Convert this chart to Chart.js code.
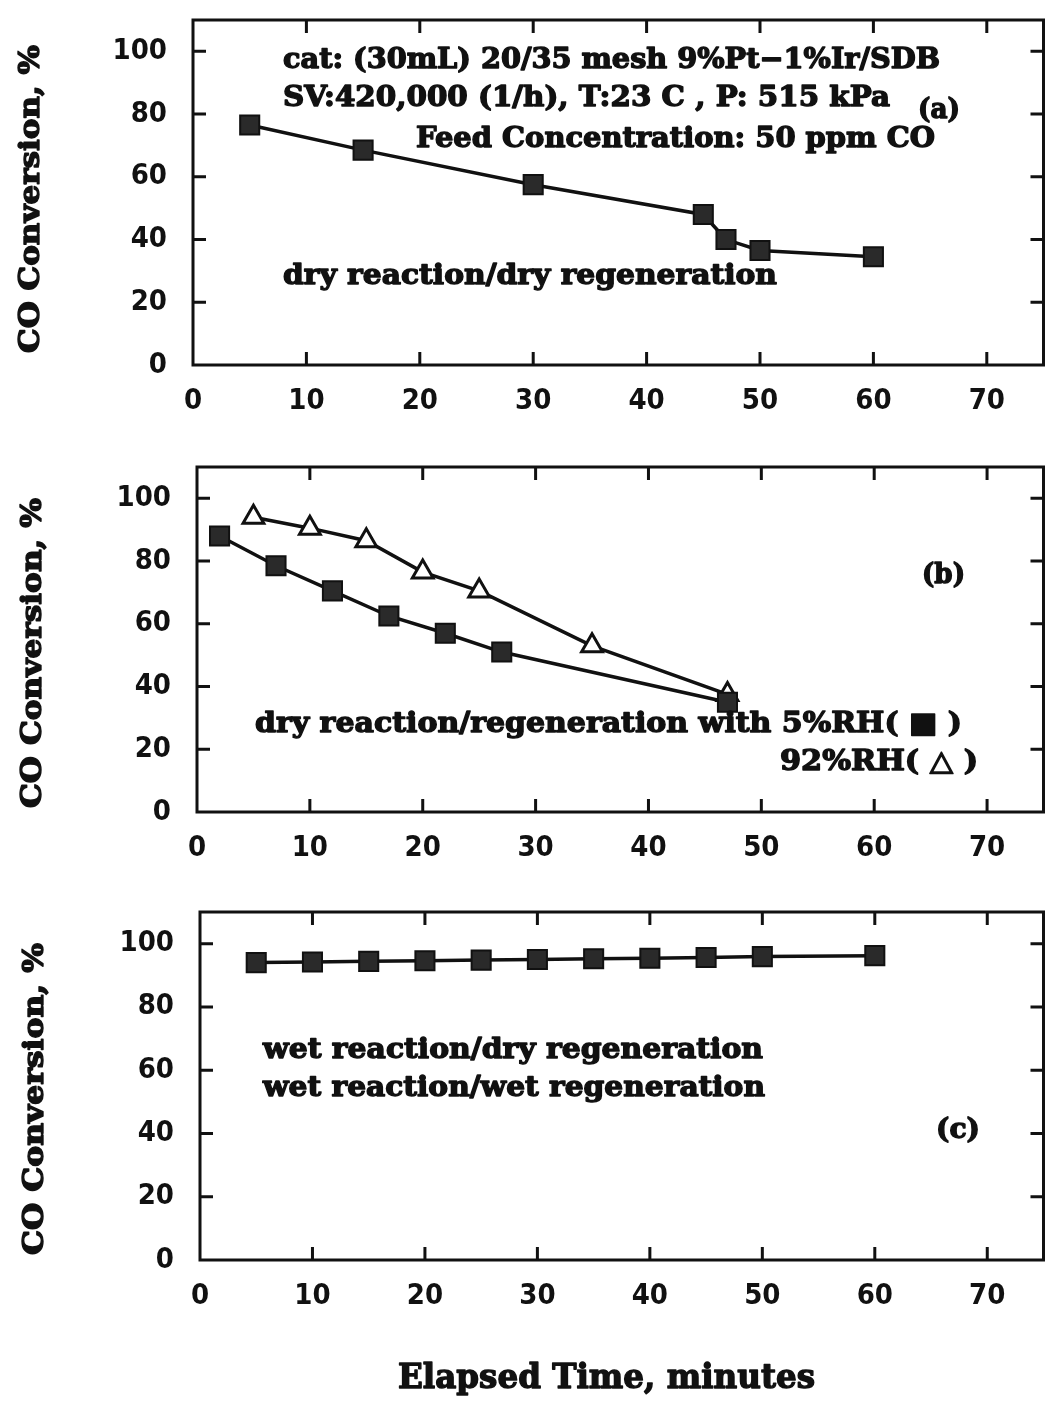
<!DOCTYPE html>
<html>
<head>
<meta charset="utf-8">
<script src="https://cdn.jsdelivr.net/npm/chart.js@4.4.0/dist/chart.umd.min.js"></script>
<style>
  html, body { margin: 0; padding: 0; background: #fff; }
  body { width: 1059px; height: 1402px; position: relative; overflow: hidden; }
  canvas { position: absolute; left: 0; }
</style>
</head>
<body>
<canvas id="cA" width="1059" height="440" style="top:0px"></canvas>
<canvas id="cB" width="1059" height="440" style="top:440px"></canvas>
<canvas id="cC" width="1059" height="522" style="top:880px"></canvas>
<script>
// ---------- data ----------
const xTickValues = [0, 10, 20, 30, 40, 50, 60, 70];
const yTickValues = [0, 20, 40, 60, 80, 100];

// Panel (a): dry reaction / dry regeneration
const aTime = [5, 15, 30, 45, 47, 50, 60];
const aConv = [76.5, 68.5, 57.5, 48, 40, 36.5, 34.5];

// Panel (b): regeneration with 5%RH (squares) and 92%RH (triangles)
const b5Time = [2, 7, 12, 17, 22, 27, 47];
const b5Conv = [88, 78.5, 70.5, 62.5, 57, 51, 35];
const b92Time = [5, 10, 15, 20, 25, 35, 47];
const b92Conv = [94, 90.5, 86.5, 76.5, 70.5, 53, 37.5];

// Panel (c): wet reaction
const cTime = [5, 10, 15, 20, 25, 30, 35, 40, 45, 50, 60];
const cConv = [94, 94.2, 94.4, 94.6, 94.8, 95, 95.2, 95.4, 95.6, 95.9, 96.2];

const yTitle = "CO Conversion, %";
const xTitle = "Elapsed Time, minutes";

// ---------- helpers ----------
const SERIF = '"DejaVu Serif", "Liberation Serif", serif';
const SANS = '"DejaVu Sans Condensed", "Liberation Sans Narrow", "DejaVu Sans", sans-serif';

function toPts(xs, ys) { return xs.map((x, i) => ({ x: x, y: ys[i] })); }

function fitText(ctx, text, x, y, width, size, opts) {
  opts = opts || {};
  ctx.save();
  ctx.font = `bold ${size}px ${opts.font || SERIF}`;
  ctx.fillStyle = '#111';
  ctx.strokeStyle = '#111';
  ctx.lineWidth = opts.stroke == null ? 1.4 : opts.stroke;
  ctx.lineJoin = 'round';
  ctx.textBaseline = 'alphabetic';
  ctx.textAlign = 'left';
  const w = ctx.measureText(text).width;
  ctx.translate(x, y);
  if (opts.rotate) ctx.rotate(opts.rotate);
  ctx.scale(width / w, 1);
  ctx.fillText(text, 0, 0);
  if (ctx.lineWidth > 0) ctx.strokeText(text, 0, 0);
  ctx.restore();
}

const framePlugin = {
  id: 'frame',
  afterDatasetsDraw(chart) {
    const { ctx, chartArea: a, scales } = chart;
    ctx.save();
    ctx.strokeStyle = '#111';
    ctx.lineWidth = 3;
    ctx.strokeRect(a.left, a.top, a.right - a.left, a.bottom - a.top);
    const L = 13;
    scales.x.ticks.forEach(t => {
      if (t.value === 0) return;
      const px = scales.x.getPixelForValue(t.value);
      ctx.beginPath();
      ctx.moveTo(px, a.bottom); ctx.lineTo(px, a.bottom - L);
      ctx.moveTo(px, a.top); ctx.lineTo(px, a.top + L);
      ctx.stroke();
    });
    scales.y.ticks.forEach(t => {
      if (t.value === 0) return;
      const py = scales.y.getPixelForValue(t.value);
      ctx.beginPath();
      ctx.moveTo(a.left, py); ctx.lineTo(a.left + L, py);
      ctx.moveTo(a.right, py); ctx.lineTo(a.right - L, py);
      ctx.stroke();
    });
    ctx.restore();
  },
  afterDraw(chart, args, opts) {
    const ctx = chart.ctx;
    (opts.texts || []).forEach(t => fitText(ctx, t.text, t.x, t.y, t.w, t.size, t));
  }
};

function squareSet(data) {
  return {
    data: data,
    showLine: true,
    borderColor: '#111',
    borderWidth: 3.5,
    pointStyle: 'rect',
    pointRadius: 13.5,
    pointHoverRadius: 13.5,
    pointBackgroundColor: '#2a2a2a',
    pointBorderColor: '#111',
    pointBorderWidth: 2,
    tension: 0
  };
}
function triangleSet(data) {
  return {
    data: data,
    showLine: true,
    borderColor: '#111',
    borderWidth: 3.5,
    pointStyle: 'triangle',
    pointRadius: 12,
    pointHoverRadius: 12,
    pointBackgroundColor: '#fff',
    pointBorderColor: '#111',
    pointBorderWidth: 3,
    tension: 0
  };
}

function makePanel(id, area, datasets, texts) {
  const canvas = document.getElementById(id);
  const W = canvas.width, H = canvas.height;
  return new Chart(canvas, {
    type: 'scatter',
    data: { datasets: datasets },
    options: {
      responsive: false,
      animation: false,
      devicePixelRatio: 1,
      layout: { padding: { top: area.top, right: W - area.right, left: 0, bottom: 0 } },
      plugins: {
        legend: { display: false },
        tooltip: { enabled: false },
        frame: { texts: texts }
      },
      scales: {
        x: {
          type: 'linear', min: 0, max: 75,
          afterFit(s) { s.height = H - area.bottom; s.paddingLeft = 0; s.paddingRight = 0; },
          afterBuildTicks(s) { s.ticks = xTickValues.map(v => ({ value: v })); },
          grid: { display: false },
          border: { display: false },
          ticks: {
            padding: 11,
            color: '#111',
            font: { family: SANS, size: 29, weight: 'bold' },
            maxRotation: 0,
            autoSkip: false
          }
        },
        y: {
          type: 'linear', min: 0, max: 110,
          afterFit(s) { s.width = area.left; s.paddingTop = 0; s.paddingBottom = 0; },
          afterBuildTicks(s) { s.ticks = yTickValues.map(v => ({ value: v })); },
          grid: { display: false },
          border: { display: false },
          ticks: {
            padding: 18,
            color: '#111',
            font: { family: SANS, size: 29, weight: 'bold' }
          }
        }
      }
    },
    plugins: [framePlugin]
  });
}

const ROT = -Math.PI / 2;

makePanel('cA', { left: 193, right: 1048, top: 20, bottom: 365 },
  [squareSet(toPts(aTime, aConv))],
  [
    { text: "cat: (30mL) 20/35 mesh 9%Pt\u22121%Ir/SDB", x: 283, y: 68, w: 657, size: 28 },
    { text: "SV:420,000 (1/h), T:23 C , P: 515 kPa", x: 283, y: 106, w: 607, size: 28 },
    { text: "Feed Concentration: 50 ppm CO", x: 416, y: 147, w: 519, size: 28 },
    { text: "(a)", x: 918, y: 118, w: 42, size: 28 },
    { text: "dry reaction/dry regeneration", x: 283, y: 284, w: 494, size: 28 },
    { text: yTitle, x: 39, y: 353, w: 308, size: 28, rotate: ROT }
  ]);

makePanel('cB', { left: 197, right: 1055, top: 27, bottom: 372 },
  [squareSet(toPts(b5Time, b5Conv)), triangleSet(toPts(b92Time, b92Conv))],
  [
    { text: "dry reaction/regeneration with 5%RH( \u25A0 )", x: 255, y: 292, w: 707, size: 28 },
    { text: "92%RH( \u25B3 )", x: 780, y: 330, w: 198, size: 28 },
    { text: "(b)", x: 922, y: 143, w: 43, size: 28 },
    { text: yTitle, x: 41, y: 368, w: 310, size: 28, rotate: ROT }
  ]);

makePanel('cC', { left: 200, right: 1055, top: 32, bottom: 380 },
  [squareSet(toPts(cTime, cConv))],
  [
    { text: "wet reaction/dry regeneration", x: 263, y: 178, w: 500, size: 28 },
    { text: "wet reaction/wet regeneration", x: 263, y: 216, w: 502, size: 28 },
    { text: "(c)", x: 936, y: 258, w: 44, size: 28 },
    { text: yTitle, x: 43, y: 375, w: 312, size: 28, rotate: ROT },
    { text: xTitle, x: 398, y: 508, w: 417, size: 33 }
  ]);
</script>
</body>
</html>
